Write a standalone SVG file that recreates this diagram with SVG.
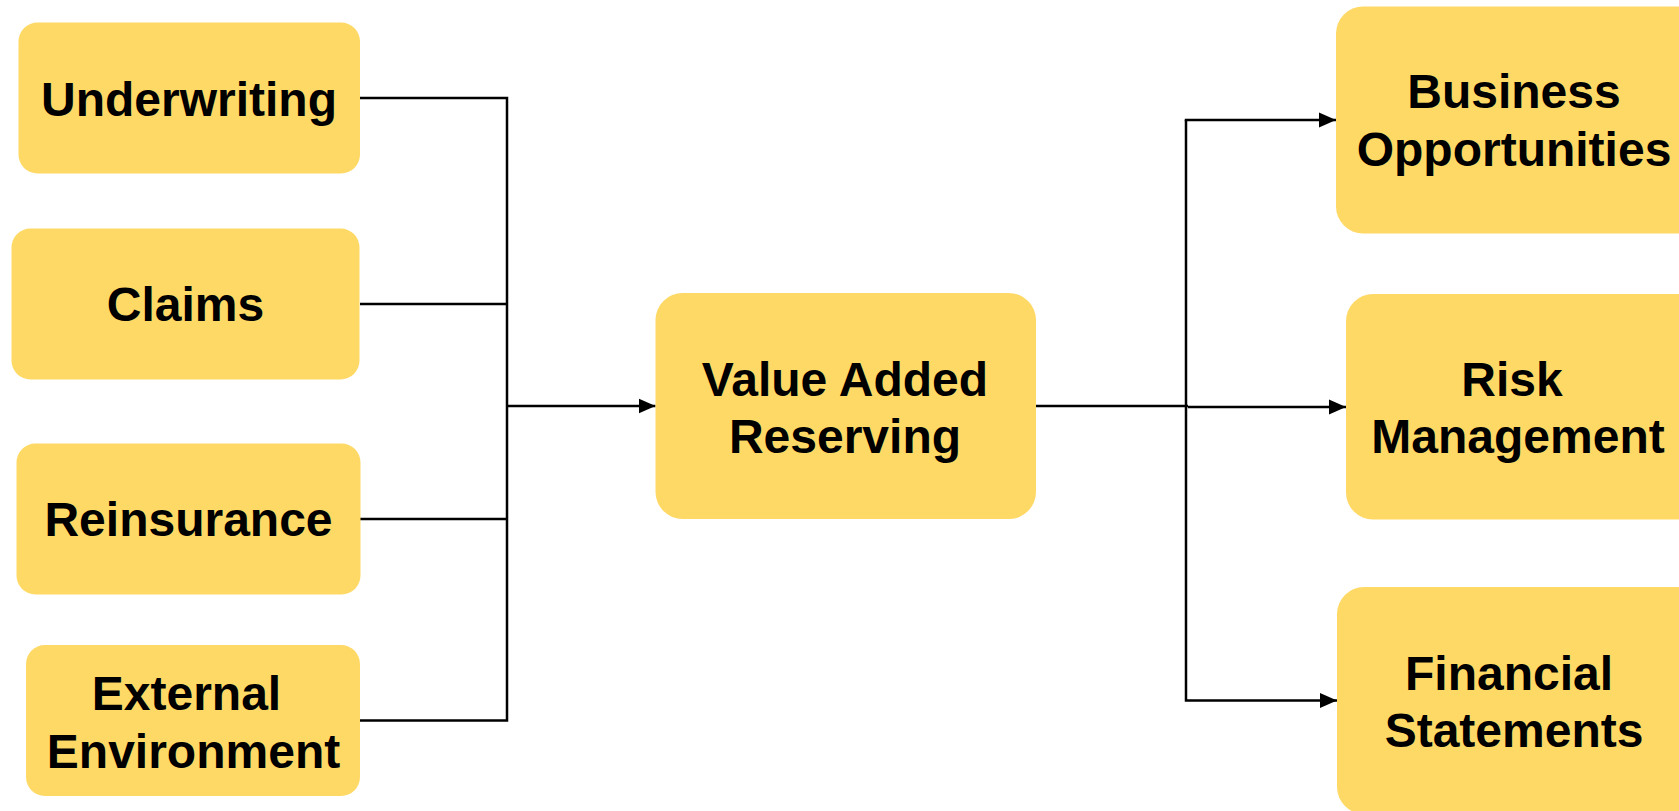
<svg xmlns="http://www.w3.org/2000/svg" width="1679" height="811" viewBox="0 0 1679 811">
  <style>
    .box { fill: #FFD966; }
    .label { font-family: "Liberation Sans", Arial, sans-serif; font-weight: bold; font-size: 48px; fill: #000; text-anchor: middle; }
    .wire { fill: none; stroke: #000; stroke-width: 2.5; }
  </style>
  <defs>
    <marker id="arrow" markerUnits="userSpaceOnUse" markerWidth="18" markerHeight="16" refX="17" refY="8" orient="auto">
      <path d="M0,0.5 L17,8 L0,15.5 Z" fill="#000"/>
    </marker>
  </defs>
  <rect width="1679" height="811" fill="#fff"/>

  <g id="connectors">
    <!-- inputs merge into one trunk -->
    <polyline class="wire" points="360,98 507,98 507,720.5 360,720.5"/>
    <line class="wire" x1="360" y1="304" x2="507" y2="304"/>
    <line class="wire" x1="360" y1="519" x2="507" y2="519"/>
    <line class="wire" x1="507" y1="406" x2="655.5" y2="406" marker-end="url(#arrow)"/>
    <!-- outputs fan out from the centre node -->
    <line class="wire" x1="1036" y1="406" x2="1188" y2="406"/>
    <polyline class="wire" points="1186,120 1186,700.5 1337,700.5" marker-end="url(#arrow)"/>
    <line class="wire" x1="1184.75" y1="120" x2="1336" y2="120" marker-end="url(#arrow)"/>
    <line class="wire" x1="1188" y1="407" x2="1346" y2="407" marker-end="url(#arrow)"/>
  </g>

  <g id="underwriting">
    <rect class="box" x="18.5" y="22.5" width="341.5" height="151" rx="19"/>
    <text class="label" x="189" y="116">Underwriting</text>
  </g>
  <g id="claims">
    <rect class="box" x="11.5" y="228.5" width="348" height="151" rx="19"/>
    <text class="label" x="185.5" y="321">Claims</text>
  </g>
  <g id="reinsurance">
    <rect class="box" x="16.5" y="443.5" width="344" height="151" rx="19"/>
    <text class="label" x="188.5" y="536">Reinsurance</text>
  </g>
  <g id="external-environment">
    <rect class="box" x="26" y="645" width="334" height="151" rx="19"/>
    <text class="label" x="186.5" y="710">External</text>
    <text class="label" x="193.5" y="768">Environment</text>
  </g>
  <g id="value-added-reserving">
    <rect class="box" x="655.5" y="293" width="380.5" height="226" rx="27"/>
    <text class="label" x="845" y="396">Value Added</text>
    <text class="label" x="845" y="453">Reserving</text>
  </g>
  <g id="business-opportunities">
    <rect class="box" x="1336" y="6.5" width="370" height="227" rx="27"/>
    <text class="label" x="1514" y="108">Business</text>
    <text class="label" x="1514" y="166">Opportunities</text>
  </g>
  <g id="risk-management">
    <rect class="box" x="1346" y="294" width="360" height="225.5" rx="27"/>
    <text class="label" x="1512" y="396">Risk</text>
    <text class="label" x="1518" y="453">Management</text>
  </g>
  <g id="financial-statements">
    <rect class="box" x="1337" y="587" width="370" height="227" rx="27"/>
    <text class="label" x="1509" y="690">Financial</text>
    <text class="label" x="1514" y="747">Statements</text>
  </g>
</svg>
